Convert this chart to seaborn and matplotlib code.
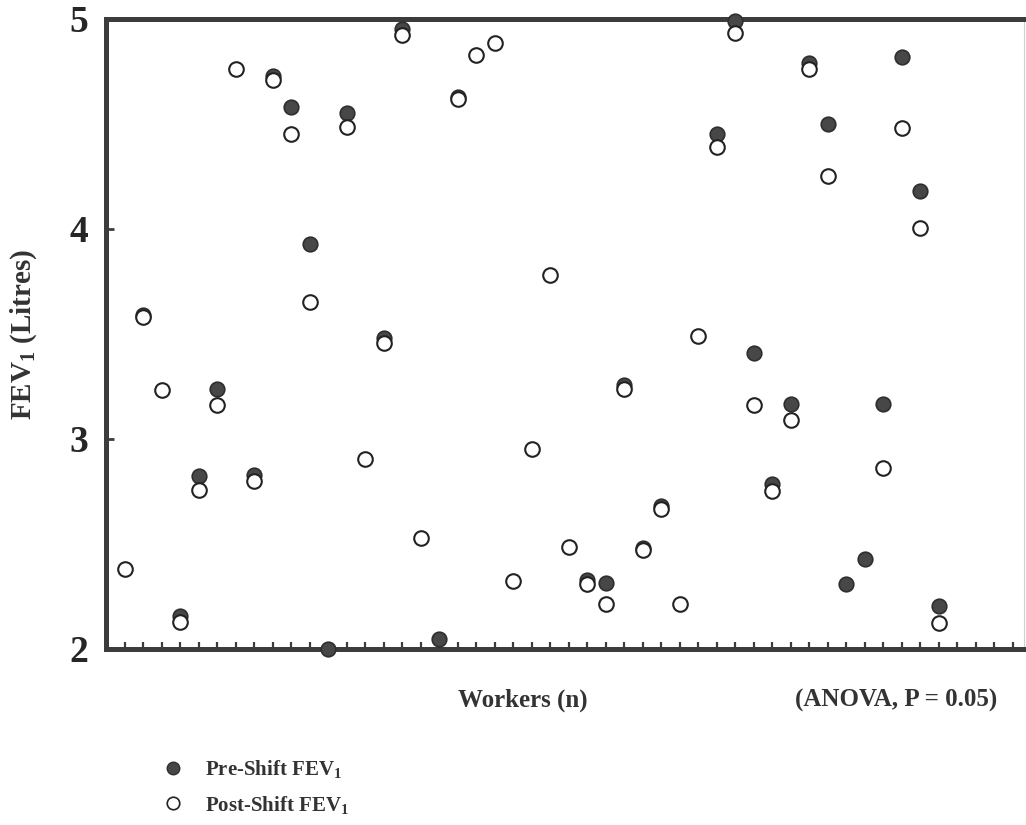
import numpy as np
import pandas as pd
import matplotlib
matplotlib.use("Agg")
import matplotlib.pyplot as plt
from matplotlib.lines import Line2D
import seaborn as sns

nan = np.nan
workers = list(range(1, 46))
pre_shift = [nan, 3.59, nan, 2.155, 2.825, 3.24, nan, 2.83, 4.73, 4.58,
             3.93, 2.00, 4.55, nan, 3.48, 4.95, nan, 2.05, 4.63, nan,
             nan, nan, nan, nan, nan, 2.33, 2.315, 3.255, 2.48, 2.68,
             nan, nan, 4.45, 4.99, 3.41, 2.785, 3.165, 4.79, 4.50, 2.31,
             2.43, 3.165, 4.82, 4.18, 2.205]
post_shift = [2.38, 3.58, 3.235, 2.13, 2.755, 3.16, 4.76, 2.80, 4.71, 4.45,
              3.65, nan, 4.485, 2.905, 3.455, 4.925, 2.53, nan, 4.62, 4.83,
              4.885, 2.325, 2.95, 3.78, 2.485, 2.31, 2.215, 3.24, 2.47, 2.665,
              2.215, 3.49, 4.39, 4.935, 3.16, 2.75, 3.09, 4.76, 4.25, nan,
              nan, 2.86, 4.48, 4.005, 2.125]
tick_positions = list(range(1, 50))
y_ticks = [2, 3, 4, 5]

df = pd.DataFrame({"worker": workers, "pre": pre_shift, "post": post_shift})

sns.set_style("white")
plt.rcParams["font.family"] = ["Liberation Serif", "DejaVu Serif"]
plt.rcParams["font.weight"] = "bold"
plt.rcParams["mathtext.fontset"] = "custom"
plt.rcParams["mathtext.rm"] = "Liberation Serif:bold"
plt.rcParams["mathtext.it"] = "Liberation Serif:bold"
plt.rcParams["mathtext.bf"] = "Liberation Serif:bold"

fig = plt.figure(figsize=(10.26, 8.25), dpi=100)
ax = fig.add_axes([106 / 1026, 1 - 649 / 825, (1024 - 106) / 1026, (649 - 19) / 825])

spine_c = "#3c3c3c"
fill_c = "#474747"

sns.scatterplot(data=df, x="worker", y="pre", ax=ax, s=110, color=fill_c,
                edgecolor="#2e2e2e", linewidth=1.2, clip_on=False, zorder=3)
sns.scatterplot(data=df, x="worker", y="post", ax=ax, s=110, color="white",
                edgecolor="#222222", linewidth=1.5, clip_on=False, zorder=4)

ax.set_xlim(0, 49.6)
ax.set_ylim(2, 5)
ax.set_xticks(tick_positions)
ax.set_xticklabels([])
ax.set_yticks(y_ticks)
ax.set_yticklabels([str(v) for v in y_ticks], fontsize=27, fontweight="bold")
ax.tick_params(axis="x", direction="in", length=5, width=1.6, color=spine_c, bottom=True)
ax.tick_params(axis="y", direction="in", length=6, width=2, color=spine_c, left=True, pad=13)
ax.set_xlabel("")
ax.set_ylabel("FEV$_1$ (Litres)", fontsize=21, fontweight="bold", labelpad=22, color="#333333")

for side in ["left", "bottom", "top"]:
    ax.spines[side].set_visible(True)
    ax.spines[side].set_linewidth(3.6)
    ax.spines[side].set_color(spine_c)
ax.spines["right"].set_visible(True)
ax.spines["right"].set_linewidth(0.8)
ax.spines["right"].set_color("#d0d0d0")

fig.text(523 / 1026, 1 - 700 / 825, "Workers (n)", fontsize=18, fontweight="bold",
         ha="center", va="center", color="#333333")
fig.text(896 / 1026, 1 - 700 / 825, "(ANOVA, P = 0.05)", fontsize=18, fontweight="bold",
         ha="center", va="center", color="#333333")

handles = [
    Line2D([], [], marker="o", linestyle="none", markersize=9, markerfacecolor=fill_c,
           markeredgecolor="#2e2e2e", markeredgewidth=1),
    Line2D([], [], marker="o", linestyle="none", markersize=9, markerfacecolor="white",
           markeredgecolor="#222222", markeredgewidth=1.2),
]
labels = ["Pre-Shift FEV$_1$", "Post-Shift FEV$_1$"]
fig.legend(handles, labels, loc="center left", bbox_to_anchor=(151 / 1026, 1 - 787 / 825),
           frameon=False, prop={"family": "Liberation Serif", "weight": "bold", "size": 15},
           handlelength=1.1, handletextpad=1.0, labelspacing=0.65, borderpad=0,
           labelcolor="#333333")

fig.savefig("out.png", dpi=100)
